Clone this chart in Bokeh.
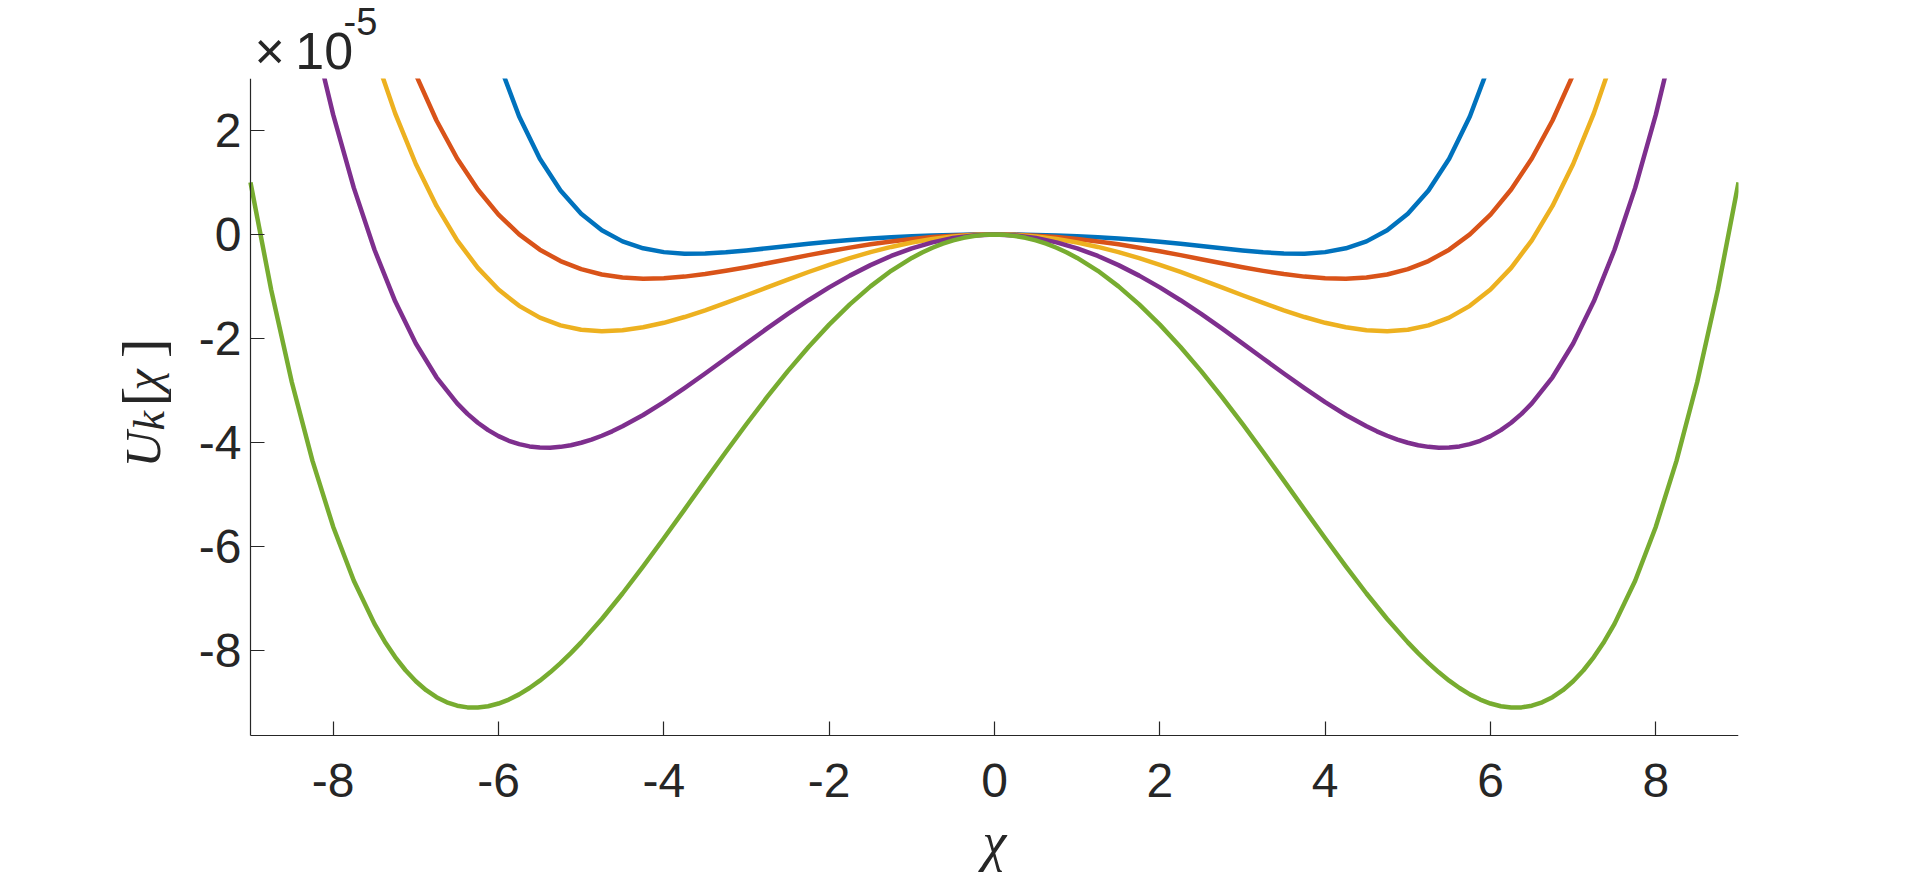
import math
from bokeh.plotting import figure
from bokeh.models import Range1d, FixedTicker, Title, Label
from bokeh.embed import file_html
from bokeh.resources import INLINE

# ---------------- data, U in units of 1e-5 ----------------
x_ticks = [-8, -6, -4, -2, 0, 2, 4, 6, 8]
x_tick_labels = ["-8", "-6", "-4", "-2", "0", "2", "4", "6", "8"]
y_ticks = [-8, -6, -4, -2, 0, 2]
y_tick_labels = ["-8", "-6", "-4", "-2", "0", "2"]
y_multiplier = "×\u200910"
y_exponent = "-5"
x_label = "χ"
x_limits = (-9.0, 9.0)
y_limits = (-9.63, 3.0)

chi_blue = [-6.0, -5.75, -5.5, -5.25, -5.0, -4.75, -4.5, -4.25, -4.0, -3.75, -3.5, -3.25,
            -3.0, -2.75, -2.5, -2.25, -2.0, -1.75, -1.5, -1.25, -1.0, -0.75, -0.5, -0.25,
            0.0, 0.25, 0.5, 0.75, 1.0, 1.25, 1.5, 1.75, 2.0, 2.25, 2.5, 2.75, 3.0, 3.25,
            3.5, 3.75, 4.0, 4.25, 4.5, 4.75, 5.0, 5.25, 5.5, 5.75, 6.0]
U_blue = [3.325, 2.268, 1.456, 0.845, 0.398, 0.081, -0.132, -0.265, -0.339, -0.368, -0.366, -0.343,
          -0.307, -0.265, -0.222, -0.179, -0.140, -0.105, -0.075, -0.051, -0.032, -0.018, -0.008, -0.002,
          0.0, -0.002, -0.008, -0.018, -0.032, -0.051, -0.075, -0.105, -0.140, -0.179, -0.222, -0.265,
          -0.307, -0.343, -0.366, -0.368, -0.339, -0.265, -0.132, 0.081, 0.398, 0.845, 1.456, 2.268, 3.325]

chi_red = [-7.25, -7.0, -6.75, -6.5, -6.25, -6.0, -5.75, -5.5, -5.25, -5.0, -4.75, -4.5, -4.25,
           -4.0, -3.75, -3.5, -3.25, -3.0, -2.75, -2.5, -2.25, -2.0, -1.75, -1.5, -1.25, -1.0,
           -0.75, -0.5, -0.25, 0.0, 0.25, 0.5, 0.75, 1.0, 1.25, 1.5, 1.75, 2.0, 2.25, 2.5, 2.75,
           3.0, 3.25, 3.5, 3.75, 4.0, 4.25, 4.5, 4.75, 5.0, 5.25, 5.5, 5.75, 6.0, 6.25, 6.5,
           6.75, 7.0, 7.25]
U_red = [4.130, 3.076, 2.193, 1.462, 0.865, 0.383, 0.002, -0.292, -0.511, -0.667, -0.770, -0.828, -0.849,
         -0.841, -0.810, -0.761, -0.699, -0.629, -0.553, -0.475, -0.397, -0.323, -0.253, -0.189, -0.134, -0.087,
         -0.049, -0.022, -0.006, 0.0, -0.006, -0.022, -0.049, -0.087, -0.134, -0.189, -0.253, -0.323, -0.397,
         -0.475, -0.553, -0.629, -0.699, -0.761, -0.810, -0.841, -0.849, -0.828, -0.770, -0.667, -0.511,
         -0.292, 0.002, 0.383, 0.865, 1.462, 2.193, 3.076, 4.130]

chi_yellow = [-7.5, -7.25, -7.0, -6.75, -6.5, -6.25, -6.0, -5.75, -5.5, -5.25, -5.0, -4.75, -4.5,
              -4.25, -4.0, -3.75, -3.5, -3.25, -3.0, -2.75, -2.5, -2.25, -2.0, -1.75, -1.5, -1.25,
              -1.0, -0.75, -0.5, -0.25, 0.0, 0.25, 0.5, 0.75, 1.0, 1.25, 1.5, 1.75, 2.0, 2.25, 2.5,
              2.75, 3.0, 3.25, 3.5, 3.75, 4.0, 4.25, 4.5, 4.75, 5.0, 5.25, 5.5, 5.75, 6.0, 6.25,
              6.5, 6.75, 7.0, 7.25, 7.5]
U_yellow = [3.485, 2.329, 1.356, 0.549, -0.112, -0.642, -1.058, -1.372, -1.598, -1.747, -1.831, -1.859,
            -1.841, -1.785, -1.698, -1.587, -1.458, -1.317, -1.168, -1.017, -0.867, -0.721, -0.583, -0.455,
            -0.340, -0.239, -0.155, -0.088, -0.039, -0.010, 0.0, -0.010, -0.039, -0.088, -0.155, -0.239,
            -0.340, -0.455, -0.583, -0.721, -0.867, -1.017, -1.168, -1.317, -1.458, -1.587, -1.698, -1.785,
            -1.841, -1.859, -1.831, -1.747, -1.598, -1.372, -1.058, -0.642, -0.112, 0.549, 1.356, 2.329, 3.485]

chi_purple = [-8.25, -8.0, -7.75, -7.5, -7.25, -7.0, -6.75, -6.5,
              -6.375, -6.25, -6.125, -6.0, -5.875, -5.75, -5.625, -5.5,
              -5.375, -5.25, -5.125, -5.0, -4.875, -4.75, -4.625, -4.5,
              -4.25, -4.0, -3.75, -3.5, -3.25, -3.0, -2.75, -2.5, -2.25, -2.0,
              -1.75, -1.5, -1.25, -1.0, -0.75, -0.5, -0.25,
              0.0,
              0.25, 0.5, 0.75, 1.0, 1.25, 1.5, 1.75,
              2.0, 2.25, 2.5, 2.75, 3.0, 3.25, 3.5, 3.75, 4.0, 4.25,
              4.5, 4.625, 4.75, 4.875, 5.0, 5.125, 5.25, 5.375,
              5.5, 5.625, 5.75, 5.875, 6.0, 6.125, 6.25, 6.375,
              6.5, 6.75, 7.0, 7.25, 7.5, 7.75, 8.0, 8.25]
U_purple = [3.953, 2.305, 0.896, -0.294, -1.285, -2.097, -2.746, -3.249,
            -3.450, -3.621, -3.763, -3.878, -3.967, -4.032, -4.075, -4.097,
            -4.099, -4.084, -4.052, -4.005, -3.944, -3.870, -3.785, -3.689,
            -3.471, -3.224, -2.955, -2.673, -2.384, -2.093, -1.806, -1.528, -1.264, -1.017,
            -0.791, -0.589, -0.413, -0.267, -0.151, -0.068, -0.017,
            0.0,
            -0.017, -0.068, -0.151, -0.267, -0.413, -0.589, -0.791,
            -1.017, -1.264, -1.528, -1.806, -2.093, -2.384, -2.673, -2.955, -3.224, -3.471,
            -3.689, -3.785, -3.870, -3.944, -4.005, -4.052, -4.084, -4.099,
            -4.097, -4.075, -4.032, -3.967, -3.878, -3.763, -3.621, -3.450,
            -3.249, -2.746, -2.097, -1.285, -0.294, 0.896, 2.305, 3.953]

chi_green = [-9.0, -8.75, -8.5, -8.25, -8.0, -7.75, -7.5,
             -7.375, -7.25, -7.125, -7.0, -6.875, -6.75, -6.625, -6.5, -6.375, -6.25,
             -6.125, -6.0, -5.875, -5.75, -5.625, -5.5, -5.375, -5.25, -5.125, -5.0,
             -4.75, -4.5, -4.25, -4.0, -3.75, -3.5, -3.25, -3.0, -2.75, -2.5, -2.25, -2.0,
             -1.75, -1.5, -1.25, -1.0,
             -0.875, -0.75, -0.625, -0.5, -0.375, -0.25, -0.125,
             0.0,
             0.125, 0.25, 0.375, 0.5, 0.625, 0.75, 0.875,
             1.0, 1.25, 1.5, 1.75,
             2.0, 2.25, 2.5, 2.75, 3.0, 3.25, 3.5, 3.75, 4.0, 4.25, 4.5, 4.75,
             5.0, 5.125, 5.25, 5.375, 5.5, 5.625, 5.75, 5.875, 6.0, 6.125,
             6.25, 6.375, 6.5, 6.625, 6.75, 6.875, 7.0, 7.125, 7.25, 7.375,
             7.5, 7.75, 8.0, 8.25, 8.5, 8.75, 9.0]
U_green = [1.001, -1.063, -2.841, -4.353, -5.619, -6.658, -7.488,
           -7.831, -8.127, -8.380, -8.592, -8.763, -8.898, -8.996, -9.061, -9.094, -9.098,
           -9.072, -9.020, -8.944, -8.844, -8.722, -8.580, -8.420, -8.243, -8.051, -7.844,
           -7.394, -6.904, -6.383, -5.842, -5.290, -4.734, -4.183, -3.644, -3.124, -2.628, -2.163, -1.733,
           -1.343, -0.997, -0.698, -0.450,
           -0.346, -0.255, -0.177, -0.114, -0.064, -0.029, -0.007,
           0.0,
           -0.007, -0.029, -0.064, -0.114, -0.177, -0.255, -0.346,
           -0.450, -0.698, -0.997, -1.343,
           -1.733, -2.163, -2.628, -3.124, -3.644, -4.183, -4.734, -5.290, -5.842, -6.383, -6.904, -7.394,
           -7.844, -8.051, -8.243, -8.420, -8.580, -8.722, -8.844, -8.944, -9.020, -9.072,
           -9.098, -9.094, -9.061, -8.996, -8.898, -8.763, -8.592, -8.380, -8.127, -7.831,
           -7.488, -6.658, -5.619, -4.353, -2.841, -1.063, 1.001]

series = [
    (chi_blue, U_blue, "#0072BD"),
    (chi_red, U_red, "#D95319"),
    (chi_yellow, U_yellow, "#EDB120"),
    (chi_purple, U_purple, "#7E2F8E"),
    (chi_green, U_green, "#77AC30"),
]

# ---------------- figure ----------------
# The frame is widened to the left and downward so that the axis titles (drawn as text
# inside it) are not clipped; the axes themselves are pinned at the data limits.
INK = "#262626"
p = figure(frame_width=1738, frame_height=801,
           x_range=Range1d(-12.0242, 9.0), y_range=Range1d(-12.404, 3.0),
           min_border_left=0, min_border_right=174, min_border_top=78, min_border_bottom=0,
           output_backend="svg", toolbar_location=None)
p.background_fill_color = "white"
p.border_fill_color = "white"
p.outline_line_color = None
p.xgrid.visible = False
p.ygrid.visible = False

for xs, ys, col in series:
    p.line(xs, ys, line_color=col, line_width=4.5, line_join="round")

for ax, ticks, labels in ((p.xaxis[0], x_ticks, x_tick_labels), (p.yaxis[0], y_ticks, y_tick_labels)):
    ax.ticker = FixedTicker(ticks=ticks)
    ax.major_label_overrides = {t: l for t, l in zip(ticks, labels)}
    ax.minor_tick_line_color = None
    ax.major_tick_in = 14
    ax.major_tick_out = 0
    ax.axis_line_color = INK
    ax.major_tick_line_color = INK
    ax.axis_line_width = 1.2
    ax.major_tick_line_width = 1.2
    ax.major_label_text_font = "Liberation Sans"
    ax.major_label_text_font_size = "48px"
    ax.major_label_text_color = INK
p.xaxis.fixed_location = y_limits[0]
p.xaxis.bounds = x_limits
p.yaxis.fixed_location = x_limits[0]
p.yaxis.bounds = y_limits
p.xaxis.major_label_standoff = 29
p.yaxis.major_label_standoff = 9

p.xaxis.axis_label = x_label
p.xaxis.axis_label_text_font = "Liberation Serif"
p.xaxis.axis_label_text_font_style = "italic"
p.xaxis.axis_label_text_color = INK
p.xaxis.axis_label_text_font_size = "54px"
p.xaxis.axis_label_standoff = 11

# y-axis title  U_k[χ]  (rotated text pieces, left of the y axis)
yl = dict(text_color=INK, text_baseline="alphabetic", text_align="left", angle=math.pi / 2)
p.add_layout(Label(x=-10.306, y=-4.48, text="U", text_font="Liberation Serif", text_font_style="italic",
                   text_font_size="50px", **yl))
p.add_layout(Label(x=-10.222, y=-3.77, text="k", text_font="Liberation Serif", text_font_style="italic",
                   text_font_size="44px", **yl))
p.add_layout(Label(x=-10.306, y=-3.31, text="[", text_font="Liberation Serif",
                   text_font_size="60px", **yl))
p.add_layout(Label(x=-10.306, y=-3.00, text="χ", text_font="Liberation Serif", text_font_style="italic",
                   text_font_size="48px", **yl))
p.add_layout(Label(x=-10.306, y=-2.38, text="]", text_font="Liberation Serif",
                   text_font_size="60px", **yl))

# exponent "×10^-5" above the y axis: "×10" nearest the frame, "-5" (plot title) above it
p.title.text = y_exponent
p.title.text_font = "Liberation Sans"
p.title.text_font_size = "38px"
p.title.text_font_style = "normal"
p.title.text_color = INK
p.title.align = "left"
p.title.offset = 343
p.title.standoff = -28

p.add_layout(Title(text=y_multiplier, text_font="Liberation Sans", text_font_size="52px",
                   text_font_style="normal", text_color=INK, align="left", offset=254, standoff=-2),
             "above")

open("out.html", "w").write(file_html(p, INLINE))
